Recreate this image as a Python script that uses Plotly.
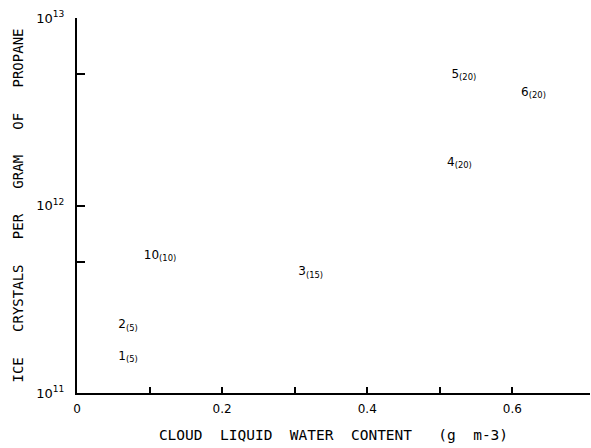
import plotly.graph_objects as go

# data: liquid water content (g m-3), ice crystals per gram propane, case number, sample count
lwc = [0.057, 0.057, 0.305, 0.51, 0.516, 0.612, 0.092]
crystals = [1.56e11, 2.3e11, 4.4e11, 1.69e12, 4.97e12, 4.0e12, 5.4e11]
case_no = ["1", "2", "3", "4", "5", "6", "10"]
counts = ["5", "5", "15", "20", "20", "20", "10"]

x_tickvals = [0, 0.1, 0.2, 0.3, 0.4, 0.5, 0.6]
x_ticktext = ["0", "", "0.2", "", "0.4", "", "0.6"]
y_tickvals = [1e11, 1e12, 1e13]
y_ticktext = ["10<sup>11</sup>", "10<sup>12</sup>", "10<sup>13</sup>"]
y_minor = [5e11, 5e12]

NB = "\u00a0"
x_title = (NB * 2).join(["CLOUD", "LIQUID", "WATER", "CONTENT"]) + NB * 3 + "(g" + NB * 2 + "m-3)"
y_title = (NB * 3).join(["ICE", "CRYSTALS", "PER", "GRAM", "OF", "PROPANE"])

labels = [f"{c}<sub>({n})</sub>" for c, n in zip(case_no, counts)]

fig = go.Figure()
fig.add_trace(go.Scatter(
    x=lwc, y=crystals, mode="text", text=labels, textposition="middle right",
    textfont=dict(family="DejaVu Sans", size=12, color="black"),
    cliponaxis=False, hoverinfo="skip", showlegend=False))

fig.update_layout(
    width=591, height=448, paper_bgcolor="white", plot_bgcolor="white",
    margin=dict(l=77, r=1, t=18, b=55),
    font=dict(family="DejaVu Sans", color="black", size=11),
    xaxis=dict(range=[0, 0.707], tickvals=x_tickvals, ticktext=x_ticktext,
               ticks="inside", ticklen=6, tickwidth=1.5, tickcolor="black",
               showline=True, linecolor="black", linewidth=2, showgrid=False,
               zeroline=False, tickfont=dict(size=12), ticklabelstandoff=4,
               title=dict(text=x_title,
                          font=dict(family="DejaVu Sans Mono", size=14.5), standoff=14)),
    yaxis=dict(type="log", range=[11, 13], tickvals=y_tickvals, ticktext=y_ticktext,
               ticks="inside", ticklen=8, tickwidth=1.5, tickcolor="black",
               showline=True, linecolor="black", linewidth=2, showgrid=False,
               zeroline=False, tickfont=dict(size=13), ticklabelstandoff=8,
               minor=dict(tickvals=y_minor, ticks="inside", ticklen=8, tickwidth=1.5, tickcolor="black"),
               title=dict(text=y_title,
                          font=dict(family="DejaVu Sans Mono", size=14), standoff=9)),
)

fig.write_html("out.html")
